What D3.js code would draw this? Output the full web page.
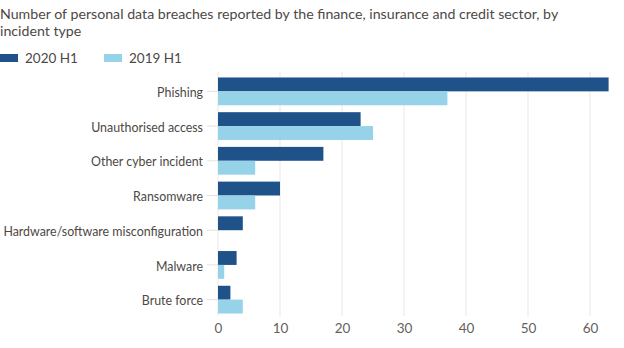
<!DOCTYPE html>
<html><head><meta charset="utf-8">
<script src="https://cdn.jsdelivr.net/npm/d3@7"></script>
<style>body{margin:0;background:#fff;}svg{display:block;font-family:Lato,sans-serif;}</style>
</head><body><svg id="c" width="624" height="348"></svg>
<script>
const categories = ["Phishing","Unauthorised access","Other cyber incident","Ransomware","Hardware/software misconfiguration","Malware","Brute force"];
const values2020 = [63,23,17,10,4,3,2];
const values2019 = [37,25,6,6,0,1,4];
const seriesNames = ["2020 H1","2019 H1"];
const colors = ["#1f5289","#96d3e8"];
const xTicks = [0,10,20,30,40,50,60];
const titleLines = ["Number of personal data breaches reported by the finance, insurance and credit sector, by","incident type"];

const svg = d3.select("#c");
const x = d3.scaleLinear().domain([0,60]).range([218,590]);
const y = d3.scaleBand().domain(categories).range([74,317]).paddingInner(0.2).paddingOuter(0.1);
const sub = d3.scaleBand().domain(seriesNames).range([0,y.bandwidth()]);

svg.append("g").selectAll("text").data(titleLines).join("text")
  .attr("x",0).attr("y",(d,i)=>19+i*17).attr("fill","#4d4845").attr("font-size",14.2).text(d=>d);

const leg = svg.append("g");
const legX = [0,104];
seriesNames.forEach((s,i)=>{
  leg.append("rect").attr("x",legX[i]).attr("y",54).attr("width",18).attr("height",8).attr("fill",colors[i]);
  leg.append("text").attr("x",legX[i]+25).attr("y",63).attr("font-size",13.5).attr("fill","#4d4845").text(s);
});

// grid
svg.append("g").selectAll("line").data(xTicks).join("line")
  .attr("x1",d=>x(d)).attr("x2",d=>x(d)).attr("y1",72).attr("y2",316)
  .attr("stroke","#ebe6e1").attr("stroke-width",1);

const xAxis = svg.append("g").attr("transform","translate(0,316)")
  .call(d3.axisBottom(x).tickValues(xTicks).tickSize(0).tickPadding(7));
xAxis.select(".domain").remove();
xAxis.selectAll("text").attr("font-size",13.5).attr("fill","#66605c").attr("font-family","Lato,sans-serif");

const yAxis = svg.append("g").attr("transform","translate(218,0)")
  .call(d3.axisLeft(y).tickSize(11).tickPadding(4));
yAxis.select(".domain").remove();
yAxis.selectAll("line").attr("stroke","#e6e1dc");
yAxis.selectAll("text").attr("font-size",12.4).attr("fill","#4d4845").attr("font-family","Lato,sans-serif").attr("dy","0.45em");

const data = categories.map((c,i)=>({c, v:[values2020[i],values2019[i]]}));
const g = svg.append("g");
data.forEach(d=>{
  seriesNames.forEach((s,j)=>{
    g.append("rect").attr("x",x(0)).attr("y",y(d.c)+sub(s))
      .attr("width",x(d.v[j])-x(0)).attr("height",sub.bandwidth()).attr("fill",colors[j]);
  });
});
</script></body></html>
